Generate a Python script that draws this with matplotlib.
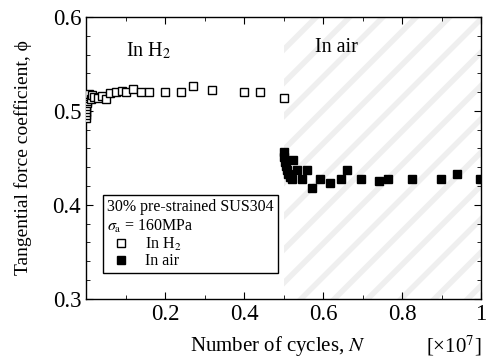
import matplotlib.pyplot as plt
from matplotlib.ticker import MultipleLocator

plt.rcParams['font.family'] = ['Liberation Serif', 'DejaVu Serif']
plt.rcParams['mathtext.fontset'] = 'stix'
plt.rcParams['hatch.linewidth'] = 4
plt.rcParams['hatch.color'] = '#efefef'

# ── data (N in units of 1e7 cycles) ───────────────────────────────────
n_h2 = [0.001, 0.001, 0.001, 0.001, 0.001, 0.002, 0.002, 0.003, 0.005, 0.008,
        0.012, 0.015, 0.02, 0.03, 0.04, 0.05, 0.06, 0.075, 0.09, 0.10,
        0.12, 0.14, 0.16, 0.20, 0.24, 0.27, 0.32, 0.40, 0.44, 0.50]
phi_h2 = [0.492, 0.496, 0.499, 0.502, 0.505, 0.508, 0.511, 0.514, 0.516, 0.518,
          0.513, 0.517, 0.515, 0.514, 0.516, 0.513, 0.519, 0.520, 0.521, 0.520,
          0.523, 0.520, 0.520, 0.520, 0.520, 0.527, 0.522, 0.520, 0.520, 0.514]

n_air = [0.500, 0.501, 0.503, 0.505, 0.509, 0.512, 0.515, 0.522, 0.524, 0.534,
         0.547, 0.559, 0.572, 0.592, 0.618, 0.646, 0.661, 0.696, 0.742, 0.765,
         0.825, 0.899, 0.939, 0.997]
phi_air = [0.456, 0.451, 0.446, 0.441, 0.437, 0.433, 0.430, 0.427, 0.448, 0.437,
           0.428, 0.437, 0.418, 0.428, 0.423, 0.428, 0.437, 0.428, 0.425, 0.428,
           0.428, 0.428, 0.433, 0.428]

fig, ax = plt.subplots(figsize=(4.86, 3.6), dpi=100)
fig.subplots_adjust(left=0.177, right=0.99, top=0.953, bottom=0.17)

# hatched "in air" region
ax.axvspan(0.5, 1.0, facecolor='white', hatch='/', edgecolor='#efefef', lw=0, zorder=0)

ax.plot(n_h2, phi_h2, 's', ms=6, mfc='white', mec='black', mew=1.0,
        linestyle='none', label='In H$_2$', zorder=3)
ax.plot(n_air, phi_air, 's', ms=6, mfc='black', mec='black', mew=1.0,
        linestyle='none', label='In air', zorder=3)

ax.set_xlim(0, 1)
ax.set_ylim(0.3, 0.6)
ax.xaxis.set_major_locator(MultipleLocator(0.2))
ax.xaxis.set_minor_locator(MultipleLocator(0.1))
ax.yaxis.set_major_locator(MultipleLocator(0.1))
ax.yaxis.set_minor_locator(MultipleLocator(0.02))
ax.set_xticks([0.2, 0.4, 0.6, 0.8, 1.0])
ax.set_xticklabels(['0.2', '0.4', '0.6', '0.8', '1'])
ax.tick_params(which='both', direction='in', top=True, right=True, labelsize=16.5)
ax.tick_params(which='major', length=5)
ax.tick_params(which='minor', length=3)
for s in ax.spines.values():
    s.set_linewidth(1.0)

ax.set_ylabel('Tangential force coefficient, ϕ', fontsize=14)
ax.yaxis.set_label_coords(-0.137, 0.5)
ax.set_xlabel('Number of cycles, $N$', fontsize=15)
ax.xaxis.set_label_coords(0.487, -0.125)
ax.text(1.0, -0.125, '[×10$^7$]', transform=ax.transAxes, fontsize=15,
        ha='right', va='top')

ax.text(0.1, 0.564, 'In H$_2$', fontsize=14.5, va='center')
ax.text(0.58, 0.567, 'In air', fontsize=14.5, va='center')

leg = ax.legend(loc='lower left', bbox_to_anchor=(0.043, 0.09), fontsize=11.5,
                title='30% pre-strained SUS304\n$\\sigma_\\mathrm{a}$ = 160MPa',
                title_fontsize=11.5, frameon=True, fancybox=False,
                edgecolor='black', framealpha=1, borderpad=0.25,
                borderaxespad=0, labelspacing=0.05, handletextpad=0.6,
                handlelength=1.8, markerscale=0.9)
leg._legend_box.align = 'left'
leg.get_frame().set_linewidth(1.0)

fig.savefig('out.png', dpi=100)
